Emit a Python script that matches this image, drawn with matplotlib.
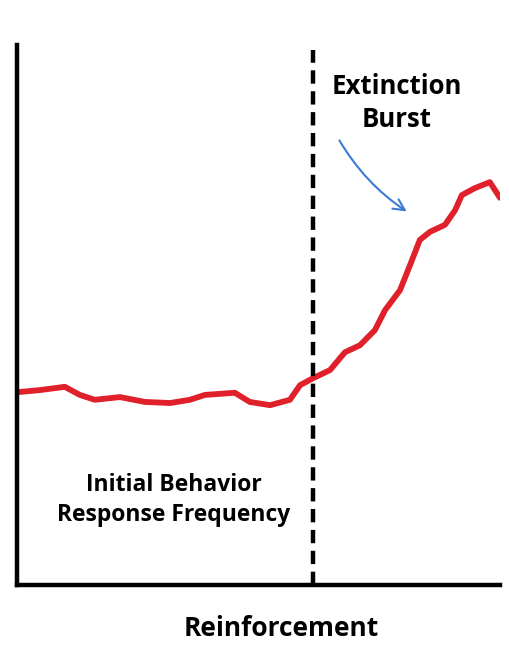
import matplotlib
matplotlib.use("Agg")
import matplotlib.pyplot as plt

time = [0, 4.8, 9.9, 13, 16.1, 21.3, 26.5, 31.7, 35.8, 38.9, 45.1, 48.2, 52.4, 56.5, 58.6,
        61.3, 64.8, 67.9, 71, 74.1, 76.2, 79.3, 81.4, 83.4, 85.5, 88.6, 90.7, 92.1, 94.8, 97.9, 100]
freq = [35.7, 36.1, 36.7, 35.2, 34.3, 34.8, 33.9, 33.7, 34.3, 35.2, 35.6, 33.9, 33.3, 34.3, 37.0,
        38.3, 39.8, 43.1, 44.4, 47.2, 50.9, 54.6, 59.3, 63.9, 65.4, 66.7, 69.4, 72.2, 73.5, 74.6, 71.7]
reinforcement_end = 61.3

plt.rcParams['font.family'] = ['Open Sans', 'DejaVu Sans']
fig = plt.figure(figsize=(5.1, 6.64), dpi=100)
ax = fig.add_axes([17/510, 1-585/664, 483/510, 540/664])
ax.set_xlim(0, 100)
ax.set_ylim(0, 100)
ax.plot(time, freq, color='#e0202a', lw=4.2, solid_capstyle='round', solid_joinstyle='round')
ax.axvline(reinforcement_end, color='black', lw=3.2, linestyle=(0, (3, 1.7)), ymax=0.99)
for s in ['top', 'right']:
    ax.spines[s].set_visible(False)
for s in ['left', 'bottom']:
    ax.spines[s].set_linewidth(3.2)
ax.set_xticks([]); ax.set_yticks([])
ax.patch.set_alpha(0)

fig.text(397/510, 1-103/664, "Extinction\nBurst", ha='center', va='center', fontsize=18.5, fontweight='bold', linespacing=1.3)
fig.text(174/510, 1-500/664, "Initial Behavior\nResponse Frequency", ha='center', va='center', fontsize=16.5, fontweight='bold', linespacing=1.35)
fig.text(281/510, 1-628/664, "Reinforcement", ha='center', va='center', fontsize=19, fontweight='bold')
fig.patches.append(matplotlib.patches.FancyArrowPatch(
    (338/510, 1-138/664), (409/510, 1-213/664), transform=fig.transFigure,
    connectionstyle="arc3,rad=0.12", arrowstyle='->,head_length=8,head_width=4', color='#3a7bd5', lw=1.5))
fig.savefig("out.png", dpi=100)
